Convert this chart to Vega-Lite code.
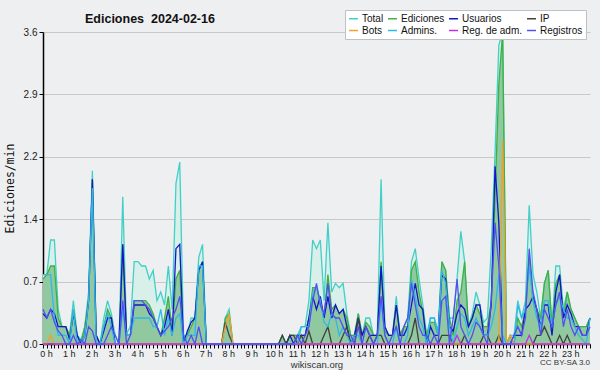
{
  "$schema": "https://vega.github.io/schema/vega-lite/v6.json",
  "width": 547,
  "height": 312,
  "autosize": {"type": "none"},
  "padding": {"left": 43, "top": 32, "right": 10, "bottom": 26},
  "background": "#eeeff1",
  "config": {"view": {"stroke": null}, "font": "Liberation Sans"},
  "title": {"text": "Ediciones\u00a0\u00a02024-02-16", "anchor": "start", "frame": "group", "dx": 42, "offset": -16, "fontSize": 12.5, "font": "Liberation Sans", "fontWeight": "bold", "color": "#111111"},
  "data": {"values": [
{"m":0,"Total":0.8,"Ediciones":0.75,"Usuarios":0.35,"IP":0,"Bots":0,"Admins":0.8,"Reg":0,"Registros":0.4},
{"m":10,"Total":0.8,"Ediciones":0.8,"Usuarios":0.3,"IP":0,"Bots":0,"Admins":0.8,"Reg":0,"Registros":0.3},
{"m":20,"Total":1.2,"Ediciones":0.9,"Usuarios":0.4,"IP":0,"Bots":0.1,"Admins":0.8,"Reg":0,"Registros":0.4},
{"m":30,"Total":1.2,"Ediciones":0.9,"Usuarios":0.35,"IP":0,"Bots":0,"Admins":0.3,"Reg":0,"Registros":0.25},
{"m":40,"Total":0.4,"Ediciones":0.3,"Usuarios":0.2,"IP":0,"Bots":0,"Admins":0.1,"Reg":0,"Registros":0.15},
{"m":50,"Total":0.2,"Ediciones":0.2,"Usuarios":0.2,"IP":0,"Bots":0,"Admins":0.1,"Reg":0,"Registros":0.1},
{"m":60,"Total":0.2,"Ediciones":0.2,"Usuarios":0.2,"IP":0,"Bots":0,"Admins":0.1,"Reg":0,"Registros":0},
{"m":70,"Total":0.1,"Ediciones":0.1,"Usuarios":0.05,"IP":0,"Bots":0,"Admins":0,"Reg":0,"Registros":0},
{"m":80,"Total":0.5,"Ediciones":0.4,"Usuarios":0.35,"IP":0,"Bots":0,"Admins":0.4,"Reg":0,"Registros":0.1},
{"m":90,"Total":0.1,"Ediciones":0.1,"Usuarios":0.1,"IP":0,"Bots":0,"Admins":0,"Reg":0,"Registros":0},
{"m":100,"Total":0.05,"Ediciones":0,"Usuarios":0,"IP":0,"Bots":0,"Admins":0,"Reg":0,"Registros":0.05},
{"m":110,"Total":0.2,"Ediciones":0.2,"Usuarios":0.1,"IP":0,"Bots":0,"Admins":0.1,"Reg":0,"Registros":0},
{"m":120,"Total":0.6,"Ediciones":0.5,"Usuarios":0.5,"IP":0,"Bots":0,"Admins":0.5,"Reg":0,"Registros":0.2},
{"m":130,"Total":2.0,"Ediciones":1.9,"Usuarios":1.9,"IP":0,"Bots":0,"Admins":1.8,"Reg":0,"Registros":0.15},
{"m":140,"Total":0.1,"Ediciones":0.1,"Usuarios":0.1,"IP":0,"Bots":0,"Admins":0,"Reg":0,"Registros":0},
{"m":150,"Total":0,"Ediciones":0,"Usuarios":0,"IP":0,"Bots":0,"Admins":0,"Reg":0,"Registros":0},
{"m":160,"Total":0.3,"Ediciones":0.2,"Usuarios":0.15,"IP":0,"Bots":0,"Admins":0.2,"Reg":0,"Registros":0},
{"m":170,"Total":0.5,"Ediciones":0.4,"Usuarios":0.3,"IP":0,"Bots":0,"Admins":0.35,"Reg":0,"Registros":0.1},
{"m":180,"Total":0.35,"Ediciones":0.3,"Usuarios":0.3,"IP":0,"Bots":0,"Admins":0.2,"Reg":0,"Registros":0.2},
{"m":190,"Total":0.1,"Ediciones":0,"Usuarios":0,"IP":0,"Bots":0,"Admins":0,"Reg":0,"Registros":0.1},
{"m":200,"Total":0,"Ediciones":0,"Usuarios":0,"IP":0,"Bots":0,"Admins":0,"Reg":0,"Registros":0},
{"m":210,"Total":1.7,"Ediciones":1.15,"Usuarios":1.15,"IP":0,"Bots":0,"Admins":0.4,"Reg":0,"Registros":0.5},
{"m":220,"Total":0.12,"Ediciones":0.1,"Usuarios":0.1,"IP":0,"Bots":0,"Admins":0.1,"Reg":0,"Registros":0},
{"m":230,"Total":0.2,"Ediciones":0.1,"Usuarios":0.1,"IP":0,"Bots":0,"Admins":0.1,"Reg":0,"Registros":0.1},
{"m":240,"Total":0.95,"Ediciones":0.5,"Usuarios":0.45,"IP":0,"Bots":0,"Admins":0.3,"Reg":0,"Registros":0.5},
{"m":250,"Total":0.95,"Ediciones":0.5,"Usuarios":0.45,"IP":0,"Bots":0,"Admins":0.3,"Reg":0,"Registros":0.5},
{"m":260,"Total":0.9,"Ediciones":0.5,"Usuarios":0.45,"IP":0,"Bots":0,"Admins":0.3,"Reg":0,"Registros":0.5},
{"m":270,"Total":0.9,"Ediciones":0.5,"Usuarios":0.45,"IP":0,"Bots":0,"Admins":0.3,"Reg":0,"Registros":0.45},
{"m":280,"Total":0.75,"Ediciones":0.45,"Usuarios":0.35,"IP":0,"Bots":0,"Admins":0.3,"Reg":0,"Registros":0.4},
{"m":290,"Total":0.85,"Ediciones":0.35,"Usuarios":0.3,"IP":0,"Bots":0,"Admins":0.2,"Reg":0,"Registros":0.3},
{"m":300,"Total":0.5,"Ediciones":0.2,"Usuarios":0.2,"IP":0,"Bots":0,"Admins":0.2,"Reg":0,"Registros":0.2},
{"m":310,"Total":0.6,"Ediciones":0.1,"Usuarios":0.1,"IP":0,"Bots":0,"Admins":0.4,"Reg":0,"Registros":0.1},
{"m":320,"Total":0.45,"Ediciones":0.3,"Usuarios":0.2,"IP":0,"Bots":0,"Admins":0.1,"Reg":0,"Registros":0.15},
{"m":330,"Total":0.9,"Ediciones":0.55,"Usuarios":0.4,"IP":0,"Bots":0,"Admins":0.3,"Reg":0,"Registros":0.2},
{"m":340,"Total":0.4,"Ediciones":0.15,"Usuarios":0.1,"IP":0,"Bots":0,"Admins":0.1,"Reg":0,"Registros":0.3},
{"m":350,"Total":1.85,"Ediciones":0.75,"Usuarios":1.1,"IP":0,"Bots":0,"Admins":0.3,"Reg":0,"Registros":0.4},
{"m":360,"Total":2.1,"Ediciones":0.85,"Usuarios":1.15,"IP":0,"Bots":0,"Admins":0.35,"Reg":0,"Registros":0.55},
{"m":370,"Total":0.1,"Ediciones":0,"Usuarios":0,"IP":0,"Bots":0,"Admins":0,"Reg":0,"Registros":0.1},
{"m":380,"Total":0.1,"Ediciones":0.1,"Usuarios":0.15,"IP":0,"Bots":0,"Admins":0.1,"Reg":0,"Registros":0},
{"m":390,"Total":0.3,"Ediciones":0.2,"Usuarios":0.25,"IP":0,"Bots":0,"Admins":0.1,"Reg":0,"Registros":0.1},
{"m":400,"Total":0.3,"Ediciones":0.3,"Usuarios":0.3,"IP":0,"Bots":0,"Admins":0.1,"Reg":0,"Registros":0},
{"m":410,"Total":1.0,"Ediciones":0.85,"Usuarios":0.85,"IP":0,"Bots":0,"Admins":0.9,"Reg":0,"Registros":0.2},
{"m":420,"Total":1.15,"Ediciones":0.95,"Usuarios":0.95,"IP":0,"Bots":0,"Admins":0.9,"Reg":0,"Registros":0},
{"m":430,"Total":0,"Ediciones":0,"Usuarios":0,"IP":0,"Bots":0,"Admins":0,"Reg":0,"Registros":0},
{"m":440,"Total":0,"Ediciones":0,"Usuarios":0,"IP":0,"Bots":0,"Admins":0,"Reg":0,"Registros":0},
{"m":450,"Total":0,"Ediciones":0,"Usuarios":0,"IP":0,"Bots":0,"Admins":0,"Reg":0,"Registros":0},
{"m":460,"Total":0,"Ediciones":0,"Usuarios":0,"IP":0,"Bots":0,"Admins":0,"Reg":0,"Registros":0},
{"m":470,"Total":0,"Ediciones":0,"Usuarios":0,"IP":0,"Bots":0,"Admins":0,"Reg":0,"Registros":0},
{"m":480,"Total":0.3,"Ediciones":0.3,"Usuarios":0,"IP":0.25,"Bots":0.2,"Admins":0,"Reg":0,"Registros":0},
{"m":490,"Total":0.4,"Ediciones":0.35,"Usuarios":0,"IP":0.1,"Bots":0.35,"Admins":0,"Reg":0,"Registros":0},
{"m":500,"Total":0,"Ediciones":0,"Usuarios":0,"IP":0,"Bots":0,"Admins":0,"Reg":0,"Registros":0},
{"m":510,"Total":0,"Ediciones":0,"Usuarios":0,"IP":0,"Bots":0,"Admins":0,"Reg":0,"Registros":0},
{"m":520,"Total":0,"Ediciones":0,"Usuarios":0,"IP":0,"Bots":0,"Admins":0,"Reg":0,"Registros":0},
{"m":530,"Total":0,"Ediciones":0,"Usuarios":0,"IP":0,"Bots":0,"Admins":0,"Reg":0,"Registros":0},
{"m":540,"Total":0,"Ediciones":0,"Usuarios":0,"IP":0,"Bots":0,"Admins":0,"Reg":0,"Registros":0},
{"m":550,"Total":0,"Ediciones":0,"Usuarios":0,"IP":0,"Bots":0,"Admins":0,"Reg":0,"Registros":0},
{"m":560,"Total":0,"Ediciones":0,"Usuarios":0,"IP":0,"Bots":0,"Admins":0,"Reg":0,"Registros":0},
{"m":570,"Total":0,"Ediciones":0,"Usuarios":0,"IP":0,"Bots":0,"Admins":0,"Reg":0,"Registros":0},
{"m":580,"Total":0,"Ediciones":0,"Usuarios":0,"IP":0,"Bots":0,"Admins":0,"Reg":0,"Registros":0},
{"m":590,"Total":0,"Ediciones":0,"Usuarios":0,"IP":0,"Bots":0,"Admins":0,"Reg":0,"Registros":0},
{"m":600,"Total":0,"Ediciones":0,"Usuarios":0,"IP":0,"Bots":0,"Admins":0,"Reg":0,"Registros":0},
{"m":610,"Total":0,"Ediciones":0,"Usuarios":0,"IP":0,"Bots":0,"Admins":0,"Reg":0,"Registros":0},
{"m":620,"Total":0,"Ediciones":0,"Usuarios":0,"IP":0,"Bots":0,"Admins":0,"Reg":0,"Registros":0},
{"m":630,"Total":0.1,"Ediciones":0.1,"Usuarios":0,"IP":0.1,"Bots":0,"Admins":0,"Reg":0,"Registros":0},
{"m":640,"Total":0,"Ediciones":0,"Usuarios":0,"IP":0,"Bots":0,"Admins":0,"Reg":0,"Registros":0},
{"m":650,"Total":0.1,"Ediciones":0.1,"Usuarios":0.1,"IP":0.1,"Bots":0,"Admins":0,"Reg":0,"Registros":0},
{"m":660,"Total":0.1,"Ediciones":0.1,"Usuarios":0,"IP":0.1,"Bots":0,"Admins":0,"Reg":0,"Registros":0},
{"m":670,"Total":0.1,"Ediciones":0.1,"Usuarios":0.1,"IP":0,"Bots":0,"Admins":0,"Reg":0,"Registros":0.1},
{"m":680,"Total":0.2,"Ediciones":0.1,"Usuarios":0.1,"IP":0.1,"Bots":0,"Admins":0.2,"Reg":0,"Registros":0},
{"m":690,"Total":0.2,"Ediciones":0.1,"Usuarios":0.1,"IP":0,"Bots":0,"Admins":0.2,"Reg":0,"Registros":0.1},
{"m":700,"Total":0.5,"Ediciones":0.3,"Usuarios":0.3,"IP":0.15,"Bots":0,"Admins":0.2,"Reg":0,"Registros":0.2},
{"m":710,"Total":1.2,"Ediciones":0.65,"Usuarios":0.55,"IP":0,"Bots":0,"Admins":0.6,"Reg":0,"Registros":0.5},
{"m":720,"Total":1.1,"Ediciones":0.65,"Usuarios":0.4,"IP":0,"Bots":0,"Admins":0.65,"Reg":0,"Registros":0.7},
{"m":730,"Total":1.2,"Ediciones":0.5,"Usuarios":0.55,"IP":0,"Bots":0,"Admins":0.5,"Reg":0,"Registros":0.45},
{"m":740,"Total":0.5,"Ediciones":0.3,"Usuarios":0.3,"IP":0.1,"Bots":0,"Admins":0.25,"Reg":0,"Registros":0.35},
{"m":750,"Total":1.4,"Ediciones":0.8,"Usuarios":0.55,"IP":0.2,"Bots":0,"Admins":0.2,"Reg":0,"Registros":0.7},
{"m":760,"Total":0.6,"Ediciones":0.4,"Usuarios":0.3,"IP":0,"Bots":0,"Admins":0.35,"Reg":0,"Registros":0.35},
{"m":770,"Total":0.7,"Ediciones":0.45,"Usuarios":0.45,"IP":0,"Bots":0,"Admins":0.3,"Reg":0,"Registros":0.3},
{"m":780,"Total":0.65,"Ediciones":0.35,"Usuarios":0.35,"IP":0,"Bots":0,"Admins":0.1,"Reg":0,"Registros":0.3},
{"m":790,"Total":0.7,"Ediciones":0.4,"Usuarios":0.4,"IP":0.1,"Bots":0,"Admins":0.2,"Reg":0,"Registros":0.2},
{"m":800,"Total":0.35,"Ediciones":0.3,"Usuarios":0.2,"IP":0.2,"Bots":0,"Admins":0.1,"Reg":0,"Registros":0.1},
{"m":810,"Total":0.1,"Ediciones":0.1,"Usuarios":0,"IP":0,"Bots":0,"Admins":0,"Reg":0,"Registros":0.1},
{"m":820,"Total":0.1,"Ediciones":0.1,"Usuarios":0.1,"IP":0,"Bots":0,"Admins":0.1,"Reg":0,"Registros":0},
{"m":830,"Total":0.35,"Ediciones":0.35,"Usuarios":0.3,"IP":0.3,"Bots":0,"Admins":0.1,"Reg":0,"Registros":0.2},
{"m":840,"Total":0.1,"Ediciones":0.1,"Usuarios":0.1,"IP":0,"Bots":0,"Admins":0,"Reg":0,"Registros":0},
{"m":850,"Total":0.3,"Ediciones":0.25,"Usuarios":0.2,"IP":0,"Bots":0,"Admins":0,"Reg":0,"Registros":0.2},
{"m":860,"Total":0.3,"Ediciones":0.2,"Usuarios":0.1,"IP":0.1,"Bots":0,"Admins":0,"Reg":0,"Registros":0.1},
{"m":870,"Total":0.1,"Ediciones":0.1,"Usuarios":0.1,"IP":0,"Bots":0,"Admins":0,"Reg":0,"Registros":0},
{"m":880,"Total":0.1,"Ediciones":0.1,"Usuarios":0.1,"IP":0.1,"Bots":0,"Admins":0,"Reg":0,"Registros":0.1},
{"m":890,"Total":1.9,"Ediciones":0.95,"Usuarios":0.9,"IP":0.1,"Bots":0,"Admins":0.5,"Reg":0,"Registros":0.55},
{"m":900,"Total":0.2,"Ediciones":0.15,"Usuarios":0.2,"IP":0,"Bots":0,"Admins":0.1,"Reg":0,"Registros":0.1},
{"m":910,"Total":0.1,"Ediciones":0.1,"Usuarios":0.1,"IP":0,"Bots":0,"Admins":0,"Reg":0,"Registros":0},
{"m":920,"Total":0.1,"Ediciones":0.1,"Usuarios":0.1,"IP":0,"Bots":0,"Admins":0,"Reg":0,"Registros":0.1},
{"m":930,"Total":0.55,"Ediciones":0.45,"Usuarios":0.45,"IP":0,"Bots":0,"Admins":0.2,"Reg":0,"Registros":0.2},
{"m":940,"Total":0.1,"Ediciones":0.1,"Usuarios":0.1,"IP":0,"Bots":0,"Admins":0,"Reg":0,"Registros":0},
{"m":950,"Total":0.2,"Ediciones":0.2,"Usuarios":0.1,"IP":0,"Bots":0,"Admins":0,"Reg":0,"Registros":0.2},
{"m":960,"Total":0.3,"Ediciones":0.2,"Usuarios":0.2,"IP":0,"Bots":0,"Admins":0.1,"Reg":0,"Registros":0.3},
{"m":970,"Total":0.95,"Ediciones":0.85,"Usuarios":0.45,"IP":0.1,"Bots":0,"Admins":0.75,"Reg":0,"Registros":0.7},
{"m":980,"Total":1.1,"Ediciones":0.95,"Usuarios":0.7,"IP":0.3,"Bots":0,"Admins":0.55,"Reg":0,"Registros":0.45},
{"m":990,"Total":0.75,"Ediciones":0.6,"Usuarios":0.45,"IP":0,"Bots":0,"Admins":0.3,"Reg":0,"Registros":0.2},
{"m":1000,"Total":0.45,"Ediciones":0.35,"Usuarios":0.4,"IP":0,"Bots":0,"Admins":0.2,"Reg":0,"Registros":0.1},
{"m":1010,"Total":0.1,"Ediciones":0.1,"Usuarios":0,"IP":0,"Bots":0,"Admins":0,"Reg":0,"Registros":0.1},
{"m":1020,"Total":0.3,"Ediciones":0.25,"Usuarios":0.2,"IP":0,"Bots":0,"Admins":0.3,"Reg":0,"Registros":0},
{"m":1030,"Total":0.3,"Ediciones":0.25,"Usuarios":0.1,"IP":0,"Bots":0,"Admins":0.3,"Reg":0,"Registros":0.1},
{"m":1040,"Total":0.15,"Ediciones":0.1,"Usuarios":0.1,"IP":0,"Bots":0,"Admins":0.1,"Reg":0,"Registros":0},
{"m":1050,"Total":0.95,"Ediciones":0.95,"Usuarios":0.8,"IP":0.1,"Bots":0,"Admins":0.85,"Reg":0,"Registros":0.5},
{"m":1060,"Total":0.85,"Ediciones":0.85,"Usuarios":0.75,"IP":0.1,"Bots":0,"Admins":0.7,"Reg":0,"Registros":0.55},
{"m":1070,"Total":0.3,"Ediciones":0.3,"Usuarios":0.2,"IP":0.1,"Bots":0,"Admins":0.2,"Reg":0,"Registros":0},
{"m":1080,"Total":0.3,"Ediciones":0.1,"Usuarios":0.15,"IP":0,"Bots":0,"Admins":0,"Reg":0,"Registros":0.3},
{"m":1090,"Total":0.75,"Ediciones":0.5,"Usuarios":0.35,"IP":0,"Bots":0,"Admins":0.2,"Reg":0.1,"Registros":0.75},
{"m":1100,"Total":1.3,"Ediciones":0.6,"Usuarios":0.45,"IP":0,"Bots":0,"Admins":0.35,"Reg":0,"Registros":0.2},
{"m":1110,"Total":0.95,"Ediciones":0.95,"Usuarios":0.4,"IP":0.1,"Bots":0,"Admins":0.3,"Reg":0,"Registros":0.1},
{"m":1120,"Total":0.2,"Ediciones":0.2,"Usuarios":0.2,"IP":0,"Bots":0,"Admins":0.1,"Reg":0,"Registros":0},
{"m":1130,"Total":0.35,"Ediciones":0.3,"Usuarios":0.3,"IP":0,"Bots":0,"Admins":0.2,"Reg":0,"Registros":0.1},
{"m":1140,"Total":0.6,"Ediciones":0.45,"Usuarios":0.45,"IP":0,"Bots":0,"Admins":0.3,"Reg":0,"Registros":0.25},
{"m":1150,"Total":0.45,"Ediciones":0.35,"Usuarios":0.45,"IP":0,"Bots":0,"Admins":0.2,"Reg":0,"Registros":0.2},
{"m":1160,"Total":0.25,"Ediciones":0.2,"Usuarios":0.1,"IP":0.1,"Bots":0,"Admins":0.1,"Reg":0,"Registros":0.1},
{"m":1170,"Total":0.3,"Ediciones":0.2,"Usuarios":0.1,"IP":0.1,"Bots":0,"Admins":0.1,"Reg":0,"Registros":0},
{"m":1180,"Total":1.1,"Ediciones":0.5,"Usuarios":0.45,"IP":0,"Bots":0,"Admins":0.2,"Reg":0,"Registros":0.5},
{"m":1190,"Total":2.2,"Ediciones":1.7,"Usuarios":2.05,"IP":0,"Bots":0,"Admins":0.4,"Reg":0,"Registros":1.4},
{"m":1200,"Total":3.45,"Ediciones":3.0,"Usuarios":1.4,"IP":0.1,"Bots":0,"Admins":0.8,"Reg":0,"Registros":0.9},
{"m":1210,"Total":3.6,"Ediciones":3.6,"Usuarios":0,"IP":0,"Bots":2.35,"Admins":0.1,"Reg":0,"Registros":0},
{"m":1220,"Total":0,"Ediciones":0,"Usuarios":0,"IP":0,"Bots":0,"Admins":0,"Reg":0,"Registros":0},
{"m":1230,"Total":0.1,"Ediciones":0.1,"Usuarios":0,"IP":0,"Bots":0.1,"Admins":0,"Reg":0,"Registros":0},
{"m":1240,"Total":0.1,"Ediciones":0,"Usuarios":0.1,"IP":0,"Bots":0,"Admins":0,"Reg":0,"Registros":0.1},
{"m":1250,"Total":0.5,"Ediciones":0.3,"Usuarios":0.1,"IP":0,"Bots":0,"Admins":0.45,"Reg":0,"Registros":0.2},
{"m":1260,"Total":0.3,"Ediciones":0.2,"Usuarios":0.1,"IP":0,"Bots":0,"Admins":0.3,"Reg":0,"Registros":0.1},
{"m":1270,"Total":0.5,"Ediciones":0.4,"Usuarios":0.4,"IP":0,"Bots":0,"Admins":0.4,"Reg":0,"Registros":0.3},
{"m":1280,"Total":1.6,"Ediciones":1.0,"Usuarios":0.45,"IP":0,"Bots":0,"Admins":0.9,"Reg":0.1,"Registros":1.1},
{"m":1290,"Total":0.8,"Ediciones":0.5,"Usuarios":0.55,"IP":0,"Bots":0,"Admins":0.5,"Reg":0,"Registros":0.6},
{"m":1300,"Total":0.6,"Ediciones":0.4,"Usuarios":0.4,"IP":0.1,"Bots":0,"Admins":0.3,"Reg":0,"Registros":0.4},
{"m":1310,"Total":0.3,"Ediciones":0.3,"Usuarios":0.2,"IP":0.1,"Bots":0,"Admins":0.2,"Reg":0,"Registros":0.1},
{"m":1320,"Total":0.7,"Ediciones":0.7,"Usuarios":0.45,"IP":0.2,"Bots":0,"Admins":0.5,"Reg":0,"Registros":0.4},
{"m":1330,"Total":0.85,"Ediciones":0.85,"Usuarios":0.45,"IP":0.1,"Bots":0,"Admins":0.5,"Reg":0,"Registros":0.3},
{"m":1340,"Total":0.2,"Ediciones":0.2,"Usuarios":0.1,"IP":0,"Bots":0,"Admins":0.2,"Reg":0,"Registros":0.2},
{"m":1350,"Total":0.9,"Ediciones":0.7,"Usuarios":0.6,"IP":0,"Bots":0,"Admins":0.45,"Reg":0,"Registros":0.45},
{"m":1360,"Total":0.9,"Ediciones":0.8,"Usuarios":0.8,"IP":0.1,"Bots":0,"Admins":0.55,"Reg":0,"Registros":0.6},
{"m":1370,"Total":0.4,"Ediciones":0.3,"Usuarios":0.3,"IP":0,"Bots":0,"Admins":0.4,"Reg":0,"Registros":0.2},
{"m":1380,"Total":0.6,"Ediciones":0.6,"Usuarios":0.45,"IP":0.1,"Bots":0,"Admins":0.3,"Reg":0,"Registros":0.4},
{"m":1390,"Total":0.4,"Ediciones":0.4,"Usuarios":0.35,"IP":0,"Bots":0,"Admins":0.3,"Reg":0,"Registros":0.2},
{"m":1400,"Total":0.3,"Ediciones":0.3,"Usuarios":0.2,"IP":0,"Bots":0,"Admins":0.2,"Reg":0,"Registros":0.1},
{"m":1410,"Total":0.2,"Ediciones":0.2,"Usuarios":0.2,"IP":0,"Bots":0,"Admins":0.1,"Reg":0,"Registros":0.2},
{"m":1420,"Total":0.2,"Ediciones":0.2,"Usuarios":0.1,"IP":0,"Bots":0,"Admins":0.05,"Reg":0,"Registros":0.1},
{"m":1430,"Total":0.2,"Ediciones":0.2,"Usuarios":0.1,"IP":0,"Bots":0,"Admins":0,"Reg":0,"Registros":0.1},
{"m":1440,"Total":0.3,"Ediciones":0.3,"Usuarios":0.3,"IP":0,"Bots":0,"Admins":0.3,"Reg":0,"Registros":0.2}
  ]},
  "encoding": {
    "x": {"field": "m", "type": "quantitative", "title": "wikiscan.org", "scale": {"domain": [0, 1440], "nice": false, "zero": false},
      "axis": {"title": "wikiscan.org", "tickCount": 144, "labelExpr": "datum.value % 60 == 0 && datum.value < 1440 ? (datum.value / 60) + ' h' : ''", "labelOverlap": false, "labelBound": false, "labelFlush": false, "labelAlign": "center", "labelOffset": 3, "labelFontSize": 9, "labelColor": "#222222", "labelPadding": 1, "domainColor": "#000000", "domainWidth": 1.5, "tickColor": "#000000", "tickSize": 4, "tickWidth": 1, "grid": false, "titleFontSize": 9.5, "titleFontWeight": "normal", "titleColor": "#333333", "titlePadding": 1}}
  },
  "layer": [
    {"mark": {"type": "area", "color": "#d9efea", "opacity": 1},
     "encoding": {"y": {"field": "Total", "type": "quantitative", "title": "Ediciones/min", "scale": {"domain": [0, 3.6], "nice": false},
       "axis": {"title": "Ediciones/min", "values": [0, 0.18, 0.36, 0.54, 0.72, 0.9, 1.08, 1.26, 1.44, 1.62, 1.8, 1.98, 2.16, 2.34, 2.52, 2.7, 2.88, 3.06, 3.24, 3.42, 3.6],
         "labelExpr": "abs(datum.value / 0.72 - round(datum.value / 0.72)) < 0.001 ? format(datum.value, '.1f') : ''",
         "grid": true, "gridColor": "#c8c8c8", "gridOpacity": {"condition": {"test": "abs(datum.value / 0.72 - round(datum.value / 0.72)) < 0.001 && datum.value > 0", "value": 1}, "value": 0},
         "domainColor": "#000000", "domainWidth": 1.5, "tickColor": "#000000", "tickSize": 4, "labelFontSize": 10, "labelColor": "#222222", "labelPadding": 2,
         "titleFont": "DejaVu Sans Mono", "titleFontSize": 11.5, "titleFontWeight": "normal", "titleColor": "#111111", "titlePadding": 8}}}},
    {"mark": {"type": "area", "color": "#90c8a0", "opacity": 1},
     "encoding": {"y": {"field": "Ediciones", "type": "quantitative", "title": "Ediciones/min", "scale": {"domain": [0, 3.6], "nice": false}}}},
    {"transform": [{"fold": ["Total", "Ediciones", "Usuarios", "IP", "Bots", "Admins", "Reg", "Registros"], "as": ["serie", "v"]}],
     "mark": {"type": "line", "strokeWidth": 1.3},
     "encoding": {
       "y": {"field": "v", "type": "quantitative", "title": "Ediciones/min", "scale": {"domain": [0, 3.6], "nice": false}},
       "color": {"field": "serie", "type": "nominal",
         "scale": {"domain": ["Total", "Ediciones", "Usuarios", "IP", "Bots", "Admins", "Reg", "Registros"],
                   "range": ["#40d0c8", "#40b040", "#1414c8", "#404040", "#f0a030", "#30b8e8", "#c030e0", "#5050f0"]},
         "legend": {"orient": "none", "direction": "horizontal", "legendX": 302, "legendY": -22, "columns": 4, "title": null, "fillColor": "#ffffff", "strokeColor": "#c0c0c0", "padding": 3,
           "symbolType": "stroke", "symbolSize": 80, "symbolStrokeWidth": 1.5, "labelFont": "Liberation Sans", "labelFontSize": 10, "labelColor": "#111111", "columnPadding": 1, "rowPadding": 1, "labelOffset": 3,
           "labelExpr": "datum.label == 'Admins' ? 'Admins.' : datum.label == 'Reg' ? 'Reg. de adm.' : datum.label"}}
     }},
    {"data": {"values": [{"m": 1440, "v": 0, "label": "CC BY-SA 3.0"}]},
     "mark": {"type": "text", "align": "right", "baseline": "middle", "dy": 19, "fontSize": 8, "color": "#333333", "clip": false},
     "encoding": {"x": {"field": "m", "type": "quantitative", "title": "wikiscan.org"}, "y": {"field": "v", "type": "quantitative", "title": "Ediciones/min"}, "text": {"field": "label", "type": "nominal"}, "color": null}}
  ]
}
